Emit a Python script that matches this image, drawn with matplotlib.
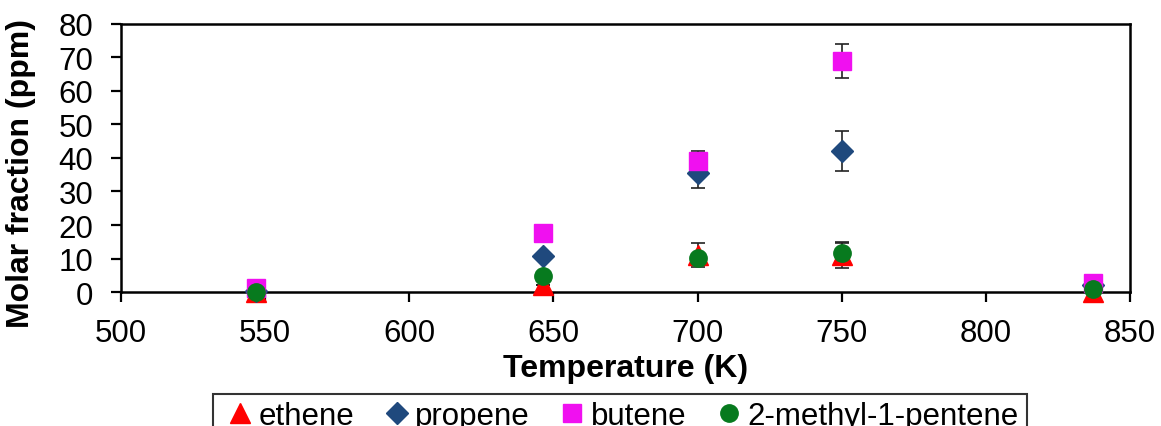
import matplotlib.pyplot as plt

plt.rcParams['font.family'] = ['Liberation Sans', 'DejaVu Sans']

temps = [547, 646.5, 700, 750, 837]  # K
ethene = [0.0, 2.0, 11.0, 11.0, 0.0]
ethene_err = [0, 0, 3.6, 3.9, 0]
propene = [0.3, 10.7, 35.5, 42.0, 2.0]
propene_err = [0, 0, 4.5, 6.0, 0]
butene = [1.3, 17.5, 39.0, 69.0, 2.8]
butene_err = [0, 0, 3.0, 5.0, 0]
methylpentene = [0.0, 4.7, 10.2, 11.6, 0.9]
methylpentene_err = [0, 0, 0, 3.0, 0]

fig = plt.figure(figsize=(11.61, 4.27), dpi=100)
ax = fig.add_axes([0.1042, 0.3138, 0.8691, 0.6277])

series = [
    ("ethene", ethene, ethene_err, '^', '#FF0000', 14),
    ("propene", propene, propene_err, 'D', '#1F497D', 11),
    ("butene", butene, butene_err, 's', '#F010F0', 12.5),
    ("2-methyl-1-pentene", methylpentene, methylpentene_err, 'o', '#077A1E', 12.5),
]
handles = []
for name, vals, err, mk, col, ms in series:
    ax.errorbar(temps, vals, yerr=err, fmt='none', ecolor='#222222',
                elinewidth=1.2, capsize=5, capthick=1.2, zorder=2)
    h, = ax.plot(temps, vals, ls='none', marker=mk, color=col, ms=ms, mec=col,
                 label=name, clip_on=False, zorder=3)
    handles.append(h)

ax.set_xlim(500, 850)
ax.set_ylim(0, 80)
ax.set_xticks(range(500, 851, 50))
ax.set_yticks(range(0, 81, 10))
for s in ax.spines.values():
    s.set_linewidth(1.8)
ax.tick_params(direction='out', length=7, width=1.6, labelsize=22.5)
ax.tick_params(axis='x', pad=12)
ax.tick_params(axis='y', pad=13)
ax.set_xlabel("Temperature (K)", fontsize=23, fontweight='bold')
ax.set_ylabel("Molar fraction (ppm)", fontsize=23, fontweight='bold')
ax.xaxis.set_label_coords(0.5, -0.228)
ax.yaxis.set_label_coords(-0.084, 0.446)

leg = fig.legend(handles=handles, loc='upper center', bbox_to_anchor=(0.534, 0.076),
                 ncol=4, fontsize=22.5, frameon=True, fancybox=False, edgecolor='black',
                 markerscale=1.0, handletextpad=0.0, columnspacing=0.75,
                 handlelength=1.2, borderpad=0.25, borderaxespad=0)
leg.get_frame().set_linewidth(1.5)

fig.savefig("out.png", dpi=100)
